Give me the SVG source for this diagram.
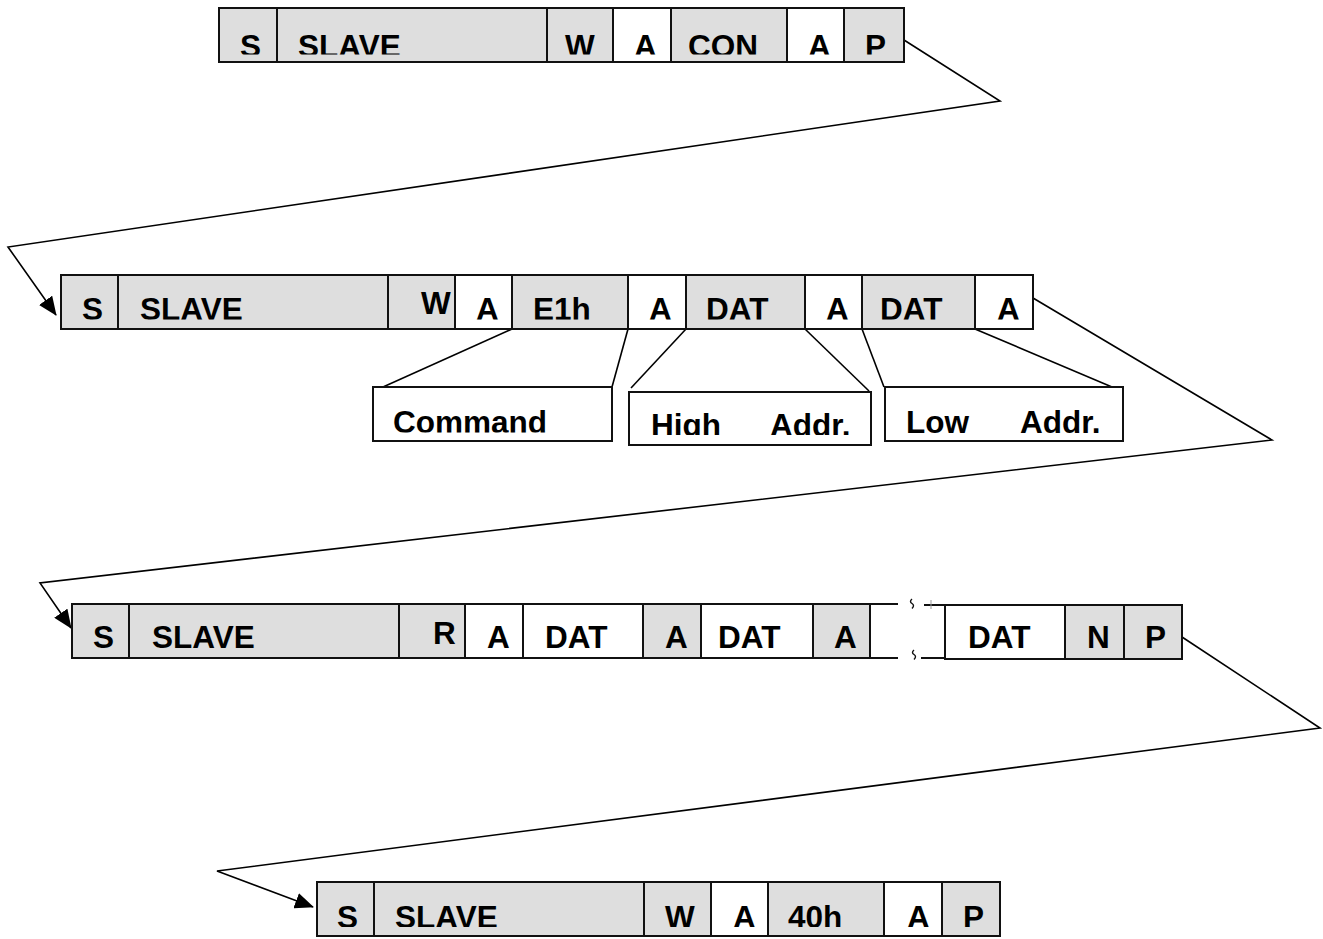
<svg xmlns="http://www.w3.org/2000/svg" width="1323" height="939" viewBox="0 0 1323 939">
<style>
.g{fill:#dedede;stroke:#111;stroke-width:2}
.w{fill:#fff;stroke:#111;stroke-width:2}
.o{fill:none;stroke:#111;stroke-width:2}
.t{font-family:"Liberation Sans",Arial,sans-serif;font-weight:bold;font-size:31.5px;fill:#000}
.c{fill:none;stroke:#000;stroke-width:1.6}
.b{fill:none;stroke:#111;stroke-width:1.4}
</style>
<defs>
<marker id="arr" markerUnits="userSpaceOnUse" markerWidth="20" markerHeight="16" refX="18" refY="8" orient="auto">
<path d="M0,0 L19,8 L0,16 Z" fill="#000"/>
</marker>
<clipPath id="c1"><rect x="200" y="0" width="720" height="54.5"/></clipPath>
<clipPath id="c2"><rect x="50" y="270" width="1000" height="49.5"/></clipPath>
<clipPath id="c3"><rect x="60" y="600" width="1140" height="49"/></clipPath>
<clipPath id="c4"><rect x="300" y="870" width="720" height="57"/></clipPath>
<clipPath id="cc"><rect x="370" y="380" width="760" height="52.5"/></clipPath>
<clipPath id="ch"><rect x="629" y="380" width="244" height="55"/></clipPath>
<clipPath id="cl"><rect x="885" y="380" width="240" height="53"/></clipPath>
</defs>
<rect width="1323" height="939" fill="#fff"/>

<g id="connectors">
<polyline class="c" points="904,40 1000,101 8,247 56,315" marker-end="url(#arr)"/>
<polyline class="c" points="1033,298 1272,440 40,583 71,628" marker-end="url(#arr)"/>
<polyline class="c" points="1182,637 1320,728 217,871 313,907" marker-end="url(#arr)"/>
<line class="c" x1="512" y1="329" x2="383" y2="387"/>
<line class="c" x1="628" y1="329" x2="612" y2="387"/>
<line class="c" x1="686" y1="329" x2="631" y2="388"/>
<line class="c" x1="805" y1="329" x2="869" y2="391"/>
<line class="c" x1="862" y1="329" x2="884" y2="387"/>
<line class="c" x1="975" y1="329" x2="1112" y2="387"/>
</g>

<g id="row1">
<rect class="g" x="219" y="8" width="58" height="54"/>
<rect class="g" x="277" y="8" width="270" height="54"/>
<rect class="g" x="547" y="8" width="66" height="54"/>
<rect class="w" x="613" y="8" width="58" height="54"/>
<rect class="g" x="671" y="8" width="116" height="54"/>
<rect class="w" x="787" y="8" width="57" height="54"/>
<rect class="g" x="844" y="8" width="60" height="54"/>
<g clip-path="url(#c1)" class="t">
<text x="240" y="56.5">S</text>
<text x="298" y="56.5">SLAVE</text>
<text x="565" y="56.5">W</text>
<text x="634" y="56.5">A</text>
<text x="688" y="56.5">CON</text>
<text x="808" y="56.5">A</text>
<text x="865" y="56.5">P</text>
</g>
</g>

<g id="row2">
<rect class="g" x="61" y="275" width="57" height="54"/>
<rect class="g" x="118" y="275" width="270" height="54"/>
<rect class="g" x="388" y="275" width="67" height="54"/>
<rect class="w" x="455" y="275" width="57" height="54"/>
<rect class="g" x="512" y="275" width="116" height="54"/>
<rect class="w" x="628" y="275" width="58" height="54"/>
<rect class="g" x="686" y="275" width="119" height="54"/>
<rect class="w" x="805" y="275" width="57" height="54"/>
<rect class="g" x="862" y="275" width="113" height="54"/>
<rect class="w" x="975" y="275" width="58" height="54"/>
<g clip-path="url(#c2)" class="t">
<text x="82" y="320">S</text>
<text x="140" y="320">SLAVE</text>
<text x="421" y="314">W</text>
<text x="476" y="320">A</text>
<text x="533" y="320">E1h</text>
<text x="649" y="320">A</text>
<text x="706" y="320">DAT</text>
<text x="826" y="320">A</text>
<text x="880" y="320">DAT</text>
<text x="997" y="320">A</text>
</g>
</g>

<g id="command">
<rect class="w" x="373" y="387" width="239" height="54"/>
<text class="t" x="393" y="433" clip-path="url(#cc)">Command</text>
</g>
<g id="high-addr">
<rect class="w" x="629" y="392" width="242" height="53"/>
<g class="t" clip-path="url(#ch)">
<text x="651" y="435.5">High</text>
<text x="770" y="435.5">Addr.</text>
</g>
</g>
<g id="low-addr">
<rect class="w" x="885" y="387" width="238" height="54"/>
<g class="t" clip-path="url(#cl)">
<text x="906" y="432.5">Low</text>
<text x="1020" y="432.5">Addr.</text>
</g>
</g>

<g id="row3">
<rect class="g" x="72" y="604" width="57" height="54"/>
<rect class="g" x="129" y="604" width="270" height="54"/>
<rect class="g" x="399" y="604" width="66" height="54"/>
<rect class="w" x="465" y="604" width="58" height="54"/>
<rect class="w" x="523" y="604" width="120" height="54"/>
<rect class="g" x="643" y="604" width="58" height="54"/>
<rect class="w" x="701" y="604" width="112" height="54"/>
<rect class="g" x="813" y="604" width="57" height="54"/>
<path class="o" d="M870,604 H898 M870,658 H898"/>
<path class="b" d="M912,599 q-3,2.5 0,4.5 q3,2 0,5"/>
<path class="b" d="M914,650 q-3,2.5 0,4.5 q3,2 0,5"/>
<path class="o" d="M924,605 H945 M921,658 H945"/>
<path d="M931,600 V609" stroke="#999" stroke-width="1" fill="none"/>
<rect class="w" x="945" y="605" width="120" height="54"/>
<rect class="g" x="1065" y="605" width="59" height="54"/>
<rect class="g" x="1124" y="605" width="58" height="54"/>
<g clip-path="url(#c3)" class="t">
<text x="93" y="647.5">S</text>
<text x="152" y="647.5">SLAVE</text>
<text x="433" y="643.5">R</text>
<text x="487" y="647.5">A</text>
<text x="545" y="647.5">DAT</text>
<text x="665" y="647.5">A</text>
<text x="718" y="647.5">DAT</text>
<text x="834" y="647.5">A</text>
<text x="968" y="647.5">DAT</text>
<text x="1087" y="647.5">N</text>
<text x="1145" y="647.5">P</text>
</g>
</g>

<g id="row4">
<rect class="g" x="317" y="882" width="57" height="54"/>
<rect class="g" x="374" y="882" width="270" height="54"/>
<rect class="g" x="644" y="882" width="67" height="54"/>
<rect class="w" x="711" y="882" width="57" height="54"/>
<rect class="g" x="768" y="882" width="116" height="54"/>
<rect class="w" x="884" y="882" width="58" height="54"/>
<rect class="g" x="942" y="882" width="58" height="54"/>
<g clip-path="url(#c4)" class="t">
<text x="337" y="927.5">S</text>
<text x="395" y="927.5">SLAVE</text>
<text x="665" y="927.5">W</text>
<text x="733" y="927.5">A</text>
<text x="788" y="927.5">40h</text>
<text x="907" y="927.5">A</text>
<text x="963" y="927.5">P</text>
</g>
</g>
</svg>
